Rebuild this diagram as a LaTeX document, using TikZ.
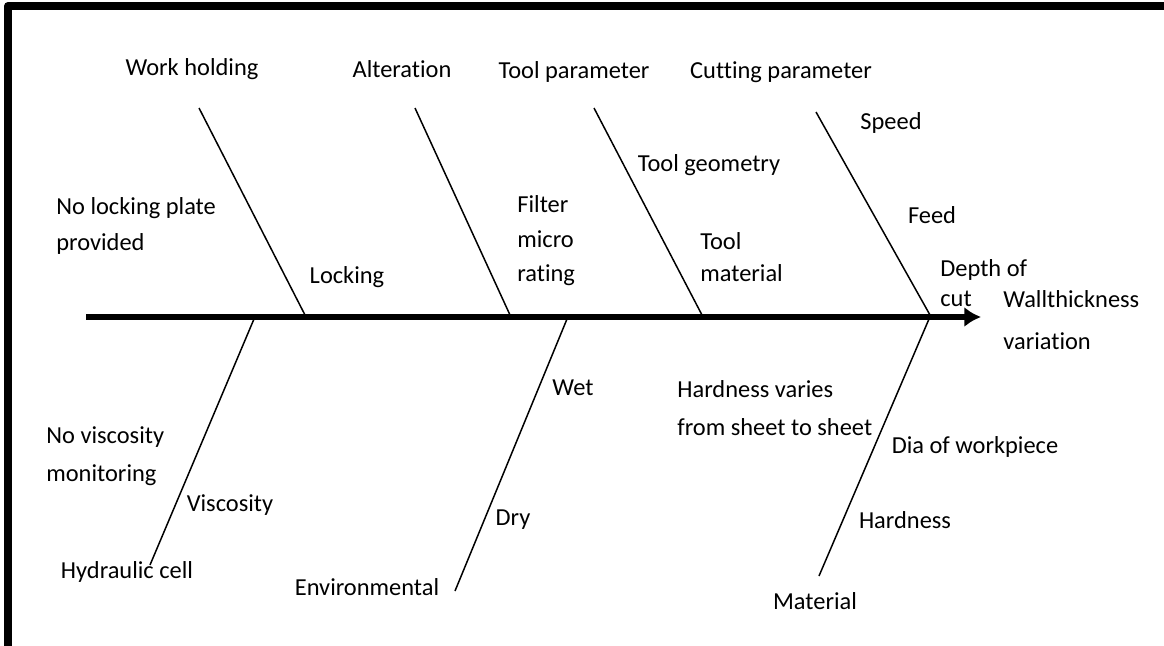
\documentclass[tikz,border=0pt]{standalone}
\usepackage{fontspec}
\setmainfont{Carlito}[Ligatures={NoCommon}]
\usepackage{tikz}
\tikzset{>=latex}
\usetikzlibrary{arrows.meta}

\begin{document}
\begin{tikzpicture}[line cap=butt,line join=round,x=0.02cm,y=-0.02cm,
	lbl/.style={inner sep=0pt,font=\fontsize{13.9}{20.4}\selectfont,align=left},
	bone/.style={line width=0.85pt,black},
	spine/.style={line width=3.4pt,black,-{Latex[length=9.5pt,width=11.5pt]}}]
	\useasboundingbox (0,0) rectangle (1164,646);
	% frame (top and left only)
	\draw[line width=4.5pt] (8,646) -- (8,6) -- (1164,6);
	% main spine
	\coordinate (tail) at (86,317);
	\coordinate (head) at (981,317);
	\draw[spine] (tail) -- (head);
	% bone ends
	\coordinate (whA) at (199,108);  \coordinate (whB) at (305,315);
	\coordinate (alA) at (415,108);  \coordinate (alB) at (510,315);
	\coordinate (tpA) at (594,108);  \coordinate (tpB) at (702,315);
	\coordinate (cpA) at (816,112);  \coordinate (cpB) at (930,315);
	\coordinate (viA) at (254,319);  \coordinate (viB) at (150,565);
	\coordinate (enA) at (567,319);  \coordinate (enB) at (455,591);
	\coordinate (maA) at (929,319);  \coordinate (maB) at (819,576);
	\draw[bone] (whA) -- (whB);
	\draw[bone] (alA) -- (alB);
	\draw[bone] (tpA) -- (tpB);
	\draw[bone] (cpA) -- (cpB);
	\draw[bone] (viA) -- (viB);
	\draw[bone] (enA) -- (enB);
	\draw[bone] (maA) -- (maB);
	% upper causes
	\node[lbl] (work) at (192,69) {Work holding};
	\node[lbl] (alter) at (402,69) {Alteration};
	\node[lbl] (toolpar) at (574,72) {Tool parameter};
	\node[lbl] (cutpar) at (781,72) {Cutting parameter};
	\node[lbl] (speed) at (891,123) {Speed};
	\node[lbl] (feed) at (932,215) {Feed};
	\node[lbl,anchor=west] (depth) at (940,283) {Depth of\\[-3.4pt]cut};
	\node[lbl,anchor=west] (nolock) at (56,226) {No locking plate\\provided};
	\node[lbl] (locking) at (347,277) {Locking};
	\node[lbl,anchor=west] (filter) at (517,241) {Filter\\[-0.8pt]micro\\[-0.8pt]rating};
	\node[lbl] (toolgeo) at (709,165) {Tool geometry};
	\node[lbl,anchor=west] (toolmat) at (700,257) {Tool\\[-2.3pt]material};
	% effect
	\node[lbl,anchor=west] (wall) at (1003,320) {Wallthickness\\[3.4pt]variation};
	% lower causes
	\node[lbl] (wet) at (573,388) {Wet};
	\node[lbl,anchor=west] (sheet) at (677,408) {Hardness varies\\[1.1pt]from sheet to sheet};
	\node[lbl] (dia) at (975,447) {Dia of workpiece};
	\node[lbl] (hardness) at (905,520) {Hardness};
	\node[lbl,anchor=west] (novisc) at (46,456) {No viscosity\\[1.1pt]monitoring};
	\node[lbl] (visc) at (230,505) {Viscosity};
	\node[lbl] (dry) at (513,520) {Dry};
	\node[lbl] (hydcell) at (127,572) {Hydraulic cell};
	\node[lbl] (environ) at (367,587) {Environmental};
	\node[lbl] (material) at (815,601) {Material};
\end{tikzpicture}
\end{document}
